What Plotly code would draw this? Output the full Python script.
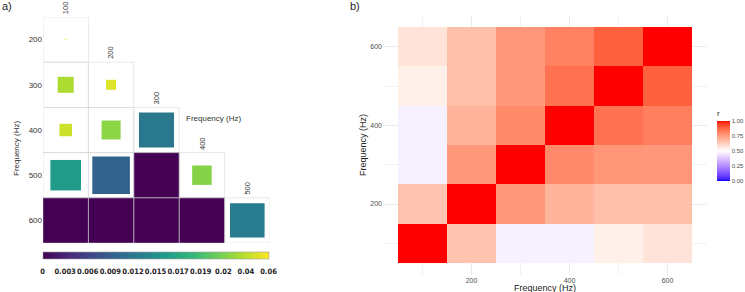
import numpy as np
import plotly.graph_objects as go
from plotly.colors import sample_colorscale

W, H = 745, 292

# ---------------- data: panel a ----------------
a_rows = ["200", "300", "400", "500", "600"]
a_cols = ["100", "200", "300", "400", "500"]
# values (lower triangle, None = not shown)
a_values = [
    [0.0598, None,    None,   None,  None],
    [0.035,  0.0502,  None,   None,  None],
    [0.0448, 0.0248,  0.0121, None,  None],
    [0.0159, 0.00945, 0.0,    0.023, None],
    [0.0,    0.0,     0.0,    0.0,   0.0126],
]
a_breaks = [0, 0.003, 0.006, 0.009, 0.012, 0.015, 0.017, 0.019, 0.02, 0.04, 0.06]
a_break_labels = ["0", "0.003", "0.006", "0.009", "0.012", "0.015", "0.017",
                  "0.019", "0.02", "0.04", "0.06"]

# ---------------- data: panel b ----------------
b_freq = [100, 200, 300, 400, 500, 600]
b_r = [
    [1.000, 0.656, 0.470, 0.470, 0.540, 0.573],
    [0.656, 1.000, 0.764, 0.694, 0.668, 0.666],
    [0.470, 0.764, 1.000, 0.796, 0.771, 0.764],
    [0.470, 0.694, 0.796, 1.000, 0.852, 0.826],
    [0.540, 0.668, 0.764, 0.852, 1.000, 0.891],
    [0.573, 0.666, 0.764, 0.819, 0.891, 1.000],
]
b_ticks = [200, 400, 600]
b_minor = [100, 300, 500]
r_ticks = [0, 0.25, 0.5, 0.75, 1.0]
r_ticklabels = ["0.00", "0.25", "0.50", "0.75", "1.00"]

# ---------------- Lab colour interpolation (ggplot-like gradient2) ----------------
def srgb_to_lin(c):
    c = np.asarray(c) / 255.0
    return np.where(c <= 0.04045, c / 12.92, ((c + 0.055) / 1.055) ** 2.4)

def lin_to_srgb(c):
    c = np.clip(c, 0, 1)
    v = np.where(c <= 0.0031308, 12.92 * c, 1.055 * c ** (1 / 2.4) - 0.055)
    return np.clip(np.round(v * 255), 0, 255)

M = np.array([[0.4124, 0.3576, 0.1805], [0.2126, 0.7152, 0.0722], [0.0193, 0.1192, 0.9505]])
Minv = np.linalg.inv(M)
WP = np.array([0.95047, 1.0, 1.08883])

def rgb_to_lab(rgb):
    xyz = M @ srgb_to_lin(rgb) / WP
    f = np.where(xyz > 0.008856, np.cbrt(xyz), 7.787 * xyz + 16 / 116)
    return np.array([116 * f[1] - 16, 500 * (f[0] - f[1]), 200 * (f[1] - f[2])])

def lab_to_rgb(lab):
    fy = (lab[0] + 16) / 116
    fx = fy + lab[1] / 500
    fz = fy - lab[2] / 200
    f = np.array([fx, fy, fz])
    xyz = np.where(f ** 3 > 0.008856, f ** 3, (f - 16 / 116) / 7.787) * WP
    return lin_to_srgb(Minv @ xyz)

lab_low, lab_mid, lab_high = rgb_to_lab([0, 0, 255]), rgb_to_lab([255, 255, 255]), rgb_to_lab([255, 0, 0])
div_scale = []
for v in np.linspace(0, 1, 41):
    if v <= 0.5:
        f = v / 0.5
        lab = lab_low + (lab_mid - lab_low) * f
    else:
        f = (v - 0.5) / 0.5
        lab = lab_mid + (lab_high - lab_mid) * f
    rgb = lab_to_rgb(lab)
    div_scale.append([float(v), "rgb(%d,%d,%d)" % tuple(int(x) for x in rgb)])

# ---------------- layout geometry ----------------
def px_x(p):
    return p / W

def px_y(p):
    return 1 - p / H

fig = go.Figure()

# ---------------- panel a: squares ----------------
pos = np.linspace(0, 1, len(a_breaks))
shapes = []
for i, row in enumerate(a_values):
    for j, v in enumerate(row):
        if v is None:
            continue
        t = float(np.interp(v, a_breaks, pos))
        col = sample_colorscale("Viridis", [t])[0]
        half = 0.5 * np.sqrt(max(1 - t, 0))
        if half > 0.003:
            shapes.append(dict(type="rect", xref="x", yref="y",
                               x0=j - half, x1=j + half, y0=i - half, y1=i + half,
                               fillcolor=col, line=dict(width=0), layer="above"))
for i, row in enumerate(a_values):
    for j, v in enumerate(row):
        if v is None:
            continue
        shapes.append(dict(type="rect", xref="x", yref="y",
                           x0=j - 0.5, x1=j + 0.5, y0=i - 0.5, y1=i + 0.5,
                           fillcolor="rgba(0,0,0,0)",
                           line=dict(width=1, color="rgba(205,205,205,0.45)"), layer="above"))

# colourbar carrier for panel a
fig.add_trace(go.Scatter(
    x=[-5], y=[-5], mode="markers", xaxis="x", yaxis="y", hoverinfo="skip",
    showlegend=False,
    marker=dict(size=1, color=[0], cmin=0, cmax=1, colorscale="Viridis", showscale=True,
                colorbar=dict(orientation="h", x=px_x((43 + 268) / 2), xanchor="center",
                              y=px_y(252), yanchor="top", len=226, lenmode="pixels",
                              thickness=7, xpad=0, ypad=0,
                              outlinewidth=0.6, outlinecolor="#a0a0a0",
                              tickvals=list(pos), ticktext=a_break_labels, tickangle=0,
                              ticks="outside", ticklen=6, tickcolor="rgba(0,0,0,0)",
                              tickfont=dict(family="DejaVu Sans Condensed, Liberation Sans Narrow, sans-serif",
                                            size=7.5, color="#222222", weight="bold")))))

# ---------------- panel b: heatmap ----------------
fig.add_trace(go.Heatmap(
    x=b_freq, y=b_freq, z=b_r, xaxis="x2", yaxis="y2", zmin=0, zmax=1,
    colorscale=div_scale, hoverinfo="skip",
    colorbar=dict(x=px_x(717), xanchor="left", xpad=0, y=px_y(181), yanchor="bottom", ypad=0,
                  len=74, lenmode="pixels", thickness=13, outlinewidth=0,
                  tickvals=r_ticks, ticktext=r_ticklabels, ticks="",
                  tickfont=dict(family="Liberation Sans, Arial, sans-serif", size=6, color="#4d4d4d"),
                  title=dict(text="r", side="top",
                             font=dict(family="Liberation Sans, Arial, sans-serif", size=8, color="#222")))))

annotations = [
    dict(text="a)", x=px_x(0), y=px_y(6), xref="paper", yref="paper", xanchor="left", yanchor="middle",
         showarrow=False, font=dict(size=11, color="#222")),
    dict(text="b)", x=px_x(348), y=px_y(6), xref="paper", yref="paper", xanchor="left", yanchor="middle",
         showarrow=False, font=dict(size=11, color="#222")),
    dict(text="Frequency (Hz)", x=px_x(16), y=px_y(149), xref="paper", yref="paper",
         xanchor="center", yanchor="middle", textangle=-90, showarrow=False,
         font=dict(size=8, color="#333")),
    dict(text="Frequency (Hz)", x=2.5, xshift=5, y=1.74, xref="x", yref="y",
         xanchor="left", yanchor="middle", showarrow=False, font=dict(size=8, color="#333")),
    dict(text="Frequency (Hz)", x=px_x(545), y=px_y(288), xref="paper", yref="paper",
         xanchor="center", yanchor="middle", showarrow=False, font=dict(size=9, color="#222")),
    dict(text="Frequency (Hz)", x=px_x(363), y=px_y(145), xref="paper", yref="paper",
         xanchor="center", yanchor="middle", textangle=-90, showarrow=False,
         font=dict(size=9, color="#222")),
]
# column labels above diagonal cells
for j, c in enumerate(a_cols):
    annotations.append(dict(text=c, x=j, y=j - 0.5, xref="x", yref="y", xanchor="center",
                            yanchor="bottom", yshift=1, textangle=-90, showarrow=False,
                            font=dict(size=7.5, color="#333")))

fig.update_layout(
    width=W, height=H, margin=dict(l=0, r=0, t=0, b=0),
    paper_bgcolor="white", plot_bgcolor="white",
    font=dict(family="Liberation Sans, Arial, sans-serif"),
    shapes=shapes, annotations=annotations,
    xaxis=dict(domain=[px_x(43), px_x(270)], range=[-0.5, 4.5], showgrid=False, zeroline=False,
               showticklabels=False, showline=False),
    yaxis=dict(domain=[px_y(243), px_y(17)], range=[4.5, -0.5], showgrid=False, zeroline=False,
               tickvals=list(range(len(a_rows))), ticktext=a_rows, ticks="",
               tickfont=dict(size=8, color="#333")),
    xaxis2=dict(domain=[px_x(383), px_x(707)], range=[19.4, 680.6], anchor="y2",
                tickvals=b_ticks, ticks="", showgrid=True, gridcolor="#ebebeb", gridwidth=1,
                minor=dict(tickvals=b_minor, showgrid=True, gridcolor="#f2f2f2", gridwidth=1),
                zeroline=False, tickfont=dict(size=7, color="#4d4d4d")),
    yaxis2=dict(domain=[px_y(275), px_y(16)], range=[19.5, 678], anchor="x2",
                tickvals=b_ticks, ticks="", showgrid=True, gridcolor="#ebebeb", gridwidth=1,
                minor=dict(tickvals=b_minor, showgrid=True, gridcolor="#f2f2f2", gridwidth=1),
                zeroline=False, tickfont=dict(size=7, color="#4d4d4d")),
)

fig.write_html("out.html")
